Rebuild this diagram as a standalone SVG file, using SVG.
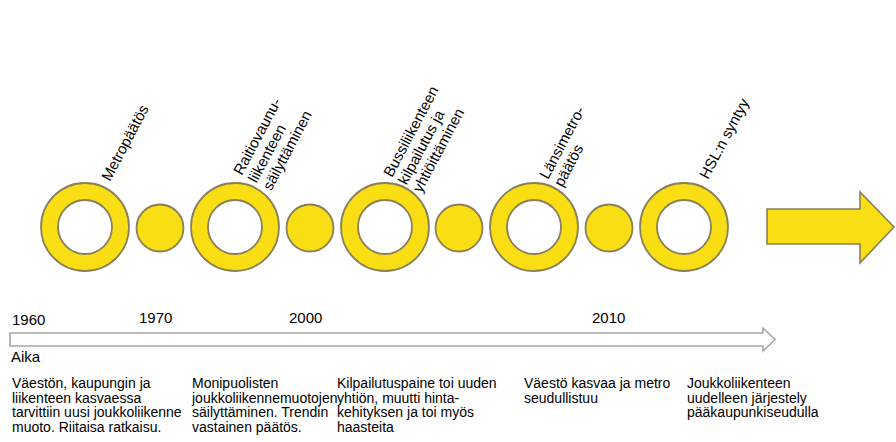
<svg xmlns="http://www.w3.org/2000/svg" width="896" height="442" viewBox="0 0 896 442">
<style>
.ring{fill:#F8DE12;stroke:#8A7F5A;stroke-width:1.8;fill-rule:evenodd}
.dot{fill:#F8DE12;stroke:#8A7F5A;stroke-width:1.8}
.lbl{font-family:"Liberation Sans",Arial,sans-serif;font-size:15px;fill:#000}
.yr{font-family:"Liberation Sans",Arial,sans-serif;font-size:15px;fill:#000}
.desc{font-family:"Liberation Sans",Arial,sans-serif;font-size:14px;fill:#000}
</style>
<rect width="896" height="442" fill="#fff"/>
<g id="connectors">
<path d="M767,209 H860 V192 L894,227 L860,263 V244 H767 Z" fill="#F8DE12" stroke="#8A7F5A" stroke-width="1.6"/>
<path d="M10,333 H763 V328 L775,339.5 L763,351 V346 H10 Z" fill="#fff" stroke="#A6A6A6" stroke-width="1.6"/>
</g>
<g id="n1"><path class="ring" d="M41,227 a44,44 0 1,0 88,0 a44,44 0 1,0 -88,0 Z M58,227 a27,27 0 1,0 54,0 a27,27 0 1,0 -54,0 Z"/>
<text class="lbl" transform="translate(110,182) rotate(-62)">Metropäätös</text></g>
<g id="d1"><circle class="dot" cx="160" cy="228" r="23.5"/></g>
<g id="n2"><path class="ring" d="M191,227 a44,44 0 1,0 88,0 a44,44 0 1,0 -88,0 Z M208,227 a27,27 0 1,0 54,0 a27,27 0 1,0 -54,0 Z"/>
<text class="lbl" transform="translate(242,176) rotate(-62)"><tspan x="0" y="0">Raitiovaunu-</tspan><tspan x="0" y="16.5">liikenteen</tspan><tspan x="0" y="33">säilyttäminen</tspan></text></g>
<g id="d2"><circle class="dot" cx="310" cy="228" r="23.5"/></g>
<g id="n3"><path class="ring" d="M341,227 a44,44 0 1,0 88,0 a44,44 0 1,0 -88,0 Z M358,227 a27,27 0 1,0 54,0 a27,27 0 1,0 -54,0 Z"/>
<text class="lbl" transform="translate(392,178) rotate(-62)"><tspan x="0" y="0">Bussiliikenteen</tspan><tspan x="0" y="16.5">kilpailutus  ja</tspan><tspan x="0" y="33">yhtiöittäminen</tspan></text></g>
<g id="d3"><circle class="dot" cx="459" cy="228" r="23.5"/></g>
<g id="n4"><path class="ring" d="M490,227 a44,44 0 1,0 88,0 a44,44 0 1,0 -88,0 Z M507,227 a27,27 0 1,0 54,0 a27,27 0 1,0 -54,0 Z"/>
<text class="lbl" transform="translate(548,180) rotate(-62)"><tspan x="0" y="0">Länsimetro-</tspan><tspan x="0" y="16.5">päätös</tspan></text></g>
<g id="d4"><circle class="dot" cx="609" cy="228" r="23.5"/></g>
<g id="n5"><path class="ring" d="M640,227 a44,44 0 1,0 88,0 a44,44 0 1,0 -88,0 Z M657,227 a27,27 0 1,0 54,0 a27,27 0 1,0 -54,0 Z"/>
<text class="lbl" transform="translate(708,180) rotate(-62)">HSL:n syntyy</text></g>
<g id="years">
<text class="yr" x="12" y="325">1960</text>
<text class="yr" x="139" y="323">1970</text>
<text class="yr" x="289" y="323">2000</text>
<text class="yr" x="592" y="323">2010</text>
<text class="yr" x="11" y="362">Aika</text>
</g>
<g id="descriptions">
<text class="desc"><tspan x="12" y="388">Väestön, kaupungin ja</tspan><tspan x="12" y="402.5">liikenteen kasvaessa</tspan><tspan x="12" y="417">tarvittiin uusi joukkoliikenne</tspan><tspan x="12" y="431.5">muoto. Riitaisa ratkaisu.</tspan></text>
<text class="desc"><tspan x="192" y="388">Monipuolisten</tspan><tspan x="192" y="402.5">joukkoliikennemuotojen</tspan><tspan x="192" y="417">säilyttäminen. Trendin</tspan><tspan x="192" y="431.5">vastainen päätös.</tspan></text>
<text class="desc"><tspan x="337" y="388">Kilpailutuspaine toi uuden</tspan><tspan x="337" y="402.5">yhtiön, muutti hinta-</tspan><tspan x="337" y="417">kehityksen ja toi myös</tspan><tspan x="337" y="431.5">haasteita</tspan></text>
<text class="desc"><tspan x="524" y="388">Väestö kasvaa ja metro</tspan><tspan x="524" y="402.5">seudullistuu</tspan></text>
<text class="desc"><tspan x="687" y="388">Joukkoliikenteen</tspan><tspan x="687" y="402.5">uudelleen järjestely</tspan><tspan x="687" y="417">pääkaupunkiseudulla</tspan></text>
</g>
</svg>
